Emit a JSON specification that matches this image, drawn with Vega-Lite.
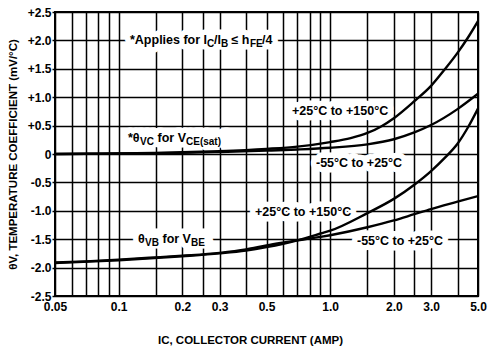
{
  "$schema": "https://vega.github.io/schema/vega-lite/v6.json",
  "width": 423,
  "height": 284,
  "autosize": {"type": "none"},
  "padding": {"left": 55, "top": 12, "right": 11, "bottom": 57},
  "background": "white",
  "config": {
    "view": {"stroke": "black", "strokeWidth": 2},
    "font": "Liberation Sans"
  },
  "datasets": {
    "curves": [
      {"series": "VCE hot", "current": 0.05, "coef": 0.0},
      {"series": "VCE hot", "current": 0.07, "coef": 0.005},
      {"series": "VCE hot", "current": 0.1, "coef": 0.01},
      {"series": "VCE hot", "current": 0.15, "coef": 0.02},
      {"series": "VCE hot", "current": 0.2, "coef": 0.03},
      {"series": "VCE hot", "current": 0.3, "coef": 0.05},
      {"series": "VCE hot", "current": 0.5, "coef": 0.09},
      {"series": "VCE hot", "current": 0.7, "coef": 0.13},
      {"series": "VCE hot", "current": 1.0, "coef": 0.21},
      {"series": "VCE hot", "current": 1.25, "coef": 0.28},
      {"series": "VCE hot", "current": 1.5, "coef": 0.37},
      {"series": "VCE hot", "current": 1.75, "coef": 0.49},
      {"series": "VCE hot", "current": 2.0, "coef": 0.63},
      {"series": "VCE hot", "current": 2.5, "coef": 0.93},
      {"series": "VCE hot", "current": 3.0, "coef": 1.2},
      {"series": "VCE hot", "current": 3.5, "coef": 1.5},
      {"series": "VCE hot", "current": 4.0, "coef": 1.78},
      {"series": "VCE hot", "current": 4.5, "coef": 2.06},
      {"series": "VCE hot", "current": 5.0, "coef": 2.34},
      {"series": "VCE cold", "current": 0.05, "coef": 0.0},
      {"series": "VCE cold", "current": 0.1, "coef": 0.01},
      {"series": "VCE cold", "current": 0.2, "coef": 0.02},
      {"series": "VCE cold", "current": 0.3, "coef": 0.035},
      {"series": "VCE cold", "current": 0.5, "coef": 0.06},
      {"series": "VCE cold", "current": 0.7, "coef": 0.08},
      {"series": "VCE cold", "current": 1.0, "coef": 0.11},
      {"series": "VCE cold", "current": 1.5, "coef": 0.17},
      {"series": "VCE cold", "current": 2.0, "coef": 0.26},
      {"series": "VCE cold", "current": 2.5, "coef": 0.38},
      {"series": "VCE cold", "current": 3.0, "coef": 0.51},
      {"series": "VCE cold", "current": 4.0, "coef": 0.79},
      {"series": "VCE cold", "current": 5.0, "coef": 1.06},
      {"series": "VBE cold", "current": 0.05, "coef": -1.91},
      {"series": "VBE cold", "current": 0.07, "coef": -1.89},
      {"series": "VBE cold", "current": 0.1, "coef": -1.86},
      {"series": "VBE cold", "current": 0.15, "coef": -1.82},
      {"series": "VBE cold", "current": 0.2, "coef": -1.79},
      {"series": "VBE cold", "current": 0.3, "coef": -1.74},
      {"series": "VBE cold", "current": 0.4, "coef": -1.68},
      {"series": "VBE cold", "current": 0.5, "coef": -1.61},
      {"series": "VBE cold", "current": 0.6, "coef": -1.56},
      {"series": "VBE cold", "current": 0.7, "coef": -1.52},
      {"series": "VBE cold", "current": 0.8, "coef": -1.49},
      {"series": "VBE cold", "current": 0.9, "coef": -1.46},
      {"series": "VBE cold", "current": 1.0, "coef": -1.43},
      {"series": "VBE cold", "current": 1.5, "coef": -1.29},
      {"series": "VBE cold", "current": 2.0, "coef": -1.17},
      {"series": "VBE cold", "current": 2.5, "coef": -1.06},
      {"series": "VBE cold", "current": 3.0, "coef": -0.97},
      {"series": "VBE cold", "current": 4.0, "coef": -0.84},
      {"series": "VBE cold", "current": 5.0, "coef": -0.74},
      {"series": "VBE hot", "current": 0.05, "coef": -1.92},
      {"series": "VBE hot", "current": 0.1, "coef": -1.87},
      {"series": "VBE hot", "current": 0.2, "coef": -1.8},
      {"series": "VBE hot", "current": 0.3, "coef": -1.75},
      {"series": "VBE hot", "current": 0.4, "coef": -1.7},
      {"series": "VBE hot", "current": 0.5, "coef": -1.64},
      {"series": "VBE hot", "current": 0.6, "coef": -1.58},
      {"series": "VBE hot", "current": 0.7, "coef": -1.52},
      {"series": "VBE hot", "current": 0.8, "coef": -1.46},
      {"series": "VBE hot", "current": 0.9, "coef": -1.4},
      {"series": "VBE hot", "current": 1.0, "coef": -1.35},
      {"series": "VBE hot", "current": 1.5, "coef": -1.04},
      {"series": "VBE hot", "current": 2.0, "coef": -0.79},
      {"series": "VBE hot", "current": 2.5, "coef": -0.54},
      {"series": "VBE hot", "current": 3.0, "coef": -0.3},
      {"series": "VBE hot", "current": 3.5, "coef": -0.06},
      {"series": "VBE hot", "current": 4.0, "coef": 0.18},
      {"series": "VBE hot", "current": 4.5, "coef": 0.48},
      {"series": "VBE hot", "current": 5.0, "coef": 0.8}
    ],
    "notes": [
      {"current": 0.1131, "coef": 2.0, "text": "*Applies for I", "role": "main"},
      {"current": 0.2617, "coef": 2.0, "text": "C", "role": "sub"},
      {"current": 0.2823, "coef": 2.0, "text": "/I", "role": "main"},
      {"current": 0.3047, "coef": 2.0, "text": "B", "role": "sub"},
      {"current": 0.3416, "coef": 2.0, "text": "≤ h", "role": "main"},
      {"current": 0.4178, "coef": 2.0, "text": "FE", "role": "sub"},
      {"current": 0.4761, "coef": 2.0, "text": "/4", "role": "main"},
      {"current": 0.1107, "coef": 0.28, "text": "*θ", "role": "main"},
      {"current": 0.1261, "coef": 0.28, "text": "VC", "role": "sub"},
      {"current": 0.1526, "coef": 0.28, "text": "for V", "role": "main"},
      {"current": 0.2082, "coef": 0.28, "text": "CE(sat)", "role": "sub"},
      {"current": 0.1234, "coef": -1.5, "text": "θ", "role": "main"},
      {"current": 0.1332, "coef": -1.5, "text": "VB", "role": "sub"},
      {"current": 0.1611, "coef": -1.5, "text": "for V", "role": "main"},
      {"current": 0.2198, "coef": -1.5, "text": "BE", "role": "sub"},
      {"current": 0.66, "coef": 0.76, "text": "+25°C to +150°C", "role": "main"},
      {"current": 0.857, "coef": -0.15, "text": "-55°C to +25°C", "role": "main"},
      {"current": 0.4412, "coef": -1.02, "text": "+25°C to +150°C", "role": "main"},
      {"current": 1.339, "coef": -1.54, "text": "-55°C to +25°C", "role": "main"}
    ]
  },
  "encoding": {
    "x": {
      "field": "current",
      "type": "quantitative",
      "scale": {"type": "log", "domain": [0.05, 5], "nice": false},
      "axis": {
        "title": "IC, COLLECTOR CURRENT (AMP)",
        "values": [0.05, 0.06, 0.07, 0.08, 0.09, 0.1, 0.15, 0.2, 0.25, 0.3, 0.4, 0.5, 0.6, 0.7, 0.8, 0.9, 1, 1.5, 2, 2.5, 3, 4, 5],
        "labelExpr": "datum.value==0.05?'0.05':datum.value==0.1?'0.1':datum.value==0.2?'0.2':datum.value==0.3?'0.3':datum.value==0.5?'0.5':datum.value==1?'1.0':datum.value==2?'2.0':datum.value==3?'3.0':datum.value==5?'5.0':''",
        "grid": true,
        "gridColor": "black",
        "gridWidth": 1.5,
        "gridOpacity": 1,
        "ticks": false,
        "domain": false,
        "labelFlush": false,
        "labelOverlap": false,
        "labelPadding": 5,
        "labelFont": "Liberation Sans",
        "labelFontSize": 12,
        "labelFontWeight": "bold",
        "labelColor": "black",
        "titleFont": "Liberation Sans",
        "titleFontSize": 11.5,
        "titleFontWeight": "bold",
        "titleColor": "black",
        "titlePadding": 22,
        "titleX": 195
      }
    },
    "y": {
      "field": "coef",
      "type": "quantitative",
      "scale": {"domain": [-2.5, 2.5], "nice": false},
      "axis": {
        "title": "θV, TEMPERATURE COEFFICIENT (mV/°C)",
        "values": [-2.5, -2, -1.5, -1, -0.5, 0, 0.5, 1, 1.5, 2, 2.5],
        "labelExpr": "datum.value > 0 ? '+' + format(datum.value, '.1f') : datum.value < 0 ? '-' + format(-datum.value, '.1f') : '0'",
        "grid": true,
        "gridColor": "black",
        "gridWidth": 1.5,
        "gridOpacity": 1,
        "ticks": true,
        "tickSize": 3,
        "tickColor": "black",
        "tickWidth": 1.5,
        "domain": false,
        "labelPadding": 1,
        "labelFont": "Liberation Sans",
        "labelFontSize": 12,
        "labelFontWeight": "bold",
        "labelColor": "black",
        "titleFont": "Liberation Sans",
        "titleFontSize": 11.5,
        "titleFontWeight": "bold",
        "titleColor": "black",
        "titlePadding": 9
      }
    }
  },
  "layer": [
    {
      "data": {"name": "notes"},
      "mark": {"type": "text", "align": "left", "baseline": "middle", "fontSize": 12.5, "fontWeight": "bold", "fill": "white", "stroke": "white", "strokeWidth": 11, "strokeJoin": "round"},
      "encoding": {"text": {"field": "text"}}
    },
    {
      "data": {"name": "curves"},
      "mark": {"type": "line", "color": "black", "strokeWidth": 2.4, "interpolate": "monotone", "clip": true},
      "encoding": {"detail": {"field": "series"}}
    },
    {
      "data": {"name": "notes"},
      "transform": [{"filter": "datum.role == 'main'"}],
      "mark": {"type": "text", "align": "left", "baseline": "middle", "fontSize": 12.5, "fontWeight": "bold", "color": "black"},
      "encoding": {"text": {"field": "text"}}
    },
    {
      "data": {"name": "notes"},
      "transform": [{"filter": "datum.role == 'sub'"}],
      "mark": {"type": "text", "align": "left", "baseline": "middle", "fontSize": 10, "dy": 4, "fontWeight": "bold", "color": "black"},
      "encoding": {"text": {"field": "text"}}
    }
  ]
}
